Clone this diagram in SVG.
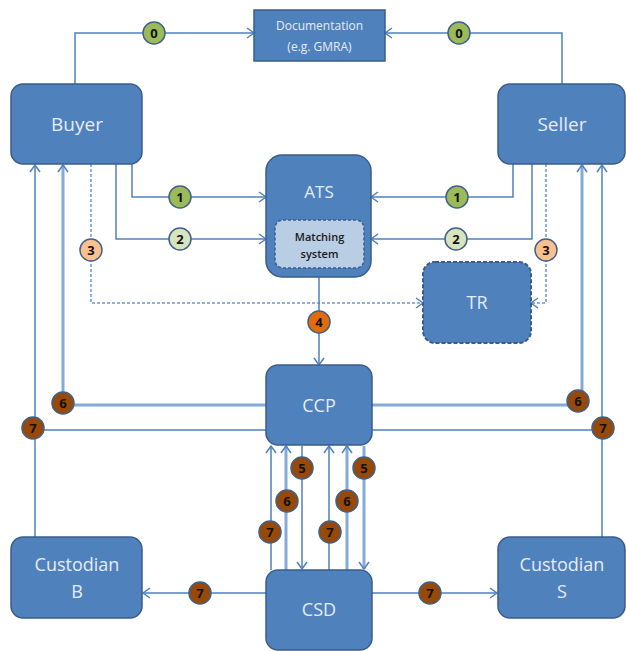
<svg xmlns="http://www.w3.org/2000/svg" width="626" height="651" viewBox="0 0 626 651">
<defs>
<marker id="arr" markerUnits="userSpaceOnUse" markerWidth="14" markerHeight="14" refX="0" refY="0" viewBox="-9 -7 11 14" orient="auto" overflow="visible">
<path d="M-7,-5 L0,0 L-7,5" fill="none" stroke="#4f81bd" stroke-width="1.5"/>
</marker>
<style>
.box{fill:#4f81bd;stroke:#385d8a;stroke-width:1.5}
.dash{stroke-dasharray:4 2;stroke-width:2}
.lbl{font-family:"Open Sans",sans-serif;fill:#e6ecf5;text-anchor:middle}
.ln{fill:none;stroke:#4f81bd;stroke-width:1.5}
.thick{fill:none;stroke:#84aad9;stroke-width:3}
.dl{fill:none;stroke:#8db0dc;stroke-width:2;stroke-dasharray:3 2}
.c{stroke:#41618a;stroke-width:1.5}
.num{font-family:"Open Sans",sans-serif;font-weight:bold;font-size:13px;fill:#111;text-anchor:middle}
.g{fill:#9bbb59}.lg{fill:#d7e4bd}.pe{fill:#fac090}.or{fill:#e36c09}.br{fill:#984807}
</style>
</defs>
<rect width="626" height="651" fill="#ffffff"/>
<g id="connectors">
<path class="ln" d="M75,84 V33 H254" marker-end="url(#arr)"/>
<path class="ln" d="M562,84 V33 H385" marker-end="url(#arr)"/>
<path class="ln" d="M132,164 V197 H266" marker-end="url(#arr)"/>
<path class="ln" d="M513,164 V197 H371" marker-end="url(#arr)"/>
<path class="ln" d="M116,164 V239 H266" marker-end="url(#arr)"/>
<path class="ln" d="M532,164 V239 H371" marker-end="url(#arr)"/>
<path class="dl" d="M91,164 V303 H423" marker-end="url(#arr)"/>
<path class="dl" d="M546,164 V303 H531" marker-end="url(#arr)"/>
<path class="ln" d="M319,277 V365" marker-end="url(#arr)"/>
<path class="thick" d="M266,405 H63 V165" marker-end="url(#arr)"/>
<path class="thick" d="M372,405 H582 V165" marker-end="url(#arr)"/>
<path class="ln" d="M266,430 H35"/>
<path class="ln" d="M35,537 V165" marker-end="url(#arr)"/>
<path class="ln" d="M372,430 H602"/>
<path class="ln" d="M602,537 V165" marker-end="url(#arr)"/>
<path class="ln" d="M271,570 V446" marker-end="url(#arr)"/>
<path class="thick" d="M286,570 V446" marker-end="url(#arr)"/>
<path class="ln" d="M302,446 V569" marker-end="url(#arr)"/>
<path class="ln" d="M329,570 V446" marker-end="url(#arr)"/>
<path class="thick" d="M347,570 V446" marker-end="url(#arr)"/>
<path class="thick" d="M364,446 V569" marker-end="url(#arr)"/>
<path class="ln" d="M266,593 H143" marker-end="url(#arr)"/>
<path class="ln" d="M372,593 H497" marker-end="url(#arr)"/>
</g>
<g id="documentation">
<rect class="box" x="254" y="10" width="131" height="51"/>
<text class="lbl" x="319.5" y="30" font-size="12">Documentation</text>
<text class="lbl" x="319.5" y="51" font-size="12">(e.g. GMRA)</text>
</g>
<g id="buyer">
<rect class="box" x="11" y="84" width="131" height="80" rx="12"/>
<text class="lbl" x="77" y="131" font-size="19">Buyer</text>
</g>
<g id="seller">
<rect class="box" x="498" y="84" width="127" height="80" rx="12"/>
<text class="lbl" x="562" y="131" font-size="19">Seller</text>
</g>
<g id="ats">
<rect class="box" x="266" y="155" width="105" height="122" rx="16"/>
<text class="lbl" x="319" y="198" font-size="17">ATS</text>
</g>
<g id="matching">
<rect x="275" y="220" width="89" height="48" rx="8" fill="#b9cde5" stroke="#385d8a" stroke-width="1.5" stroke-dasharray="3 2"/>
<text x="319.5" y="241" font-family="Open Sans,sans-serif" font-size="11" font-weight="600" fill="#1a1a1a" text-anchor="middle">Matching</text>
<text x="319.5" y="258" font-family="Open Sans,sans-serif" font-size="11" font-weight="600" fill="#1a1a1a" text-anchor="middle">system</text>
</g>
<g id="tr">
<rect class="box dash" x="423" y="262" width="108" height="81" rx="12"/>
<text class="lbl" x="477" y="309" font-size="18">TR</text>
</g>
<g id="ccp">
<rect class="box" x="266" y="365" width="106" height="80" rx="12"/>
<text class="lbl" x="319" y="412" font-size="18">CCP</text>
</g>
<g id="csd">
<rect class="box" x="266" y="570" width="106" height="80" rx="12"/>
<text class="lbl" x="319" y="616" font-size="18">CSD</text>
</g>
<g id="custodianB">
<rect class="box" x="11" y="537" width="131" height="81" rx="12"/>
<text class="lbl" x="77" y="571" font-size="18">Custodian</text>
<text class="lbl" x="77" y="598" font-size="18">B</text>
</g>
<g id="custodianS">
<rect class="box" x="498" y="537" width="127" height="81" rx="12"/>
<text class="lbl" x="562" y="571" font-size="18">Custodian</text>
<text class="lbl" x="562" y="598" font-size="18">S</text>
</g>
<g id="badges">
<circle class="c g" cx="154" cy="33" r="11"/><text class="num" x="154" y="37.5">0</text>
<circle class="c g" cx="459" cy="33" r="11"/><text class="num" x="459" y="37.5">0</text>
<circle class="c g" cx="180" cy="197" r="11"/><text class="num" x="180" y="201.5">1</text>
<circle class="c g" cx="457" cy="197" r="11"/><text class="num" x="457" y="201.5">1</text>
<circle class="c lg" cx="180" cy="239" r="11"/><text class="num" x="180" y="243.5">2</text>
<circle class="c lg" cx="456" cy="239" r="11"/><text class="num" x="456" y="243.5">2</text>
<circle class="c pe" cx="91" cy="250" r="11"/><text class="num" x="91" y="254.5">3</text>
<circle class="c pe" cx="546" cy="250" r="11"/><text class="num" x="546" y="254.5">3</text>
<circle class="c or" cx="319" cy="322" r="11"/><text class="num" x="319" y="326.5">4</text>
<circle class="c br" cx="63" cy="403" r="11"/><text class="num" x="63" y="407.5">6</text>
<circle class="c br" cx="578" cy="401" r="11"/><text class="num" x="578" y="405.5">6</text>
<circle class="c br" cx="33" cy="428" r="11"/><text class="num" x="33" y="432.5">7</text>
<circle class="c br" cx="603" cy="428" r="11"/><text class="num" x="603" y="432.5">7</text>
<circle class="c br" cx="302" cy="468" r="11"/><text class="num" x="302" y="472.5">5</text>
<circle class="c br" cx="364" cy="468" r="11"/><text class="num" x="364" y="472.5">5</text>
<circle class="c br" cx="287" cy="501" r="11"/><text class="num" x="287" y="505.5">6</text>
<circle class="c br" cx="347" cy="501" r="11"/><text class="num" x="347" y="505.5">6</text>
<circle class="c br" cx="270" cy="532" r="11"/><text class="num" x="270" y="536.5">7</text>
<circle class="c br" cx="330" cy="532" r="11"/><text class="num" x="330" y="536.5">7</text>
<circle class="c br" cx="200" cy="593" r="11"/><text class="num" x="200" y="597.5">7</text>
<circle class="c br" cx="430" cy="593" r="11"/><text class="num" x="430" y="597.5">7</text>
</g>
</svg>
